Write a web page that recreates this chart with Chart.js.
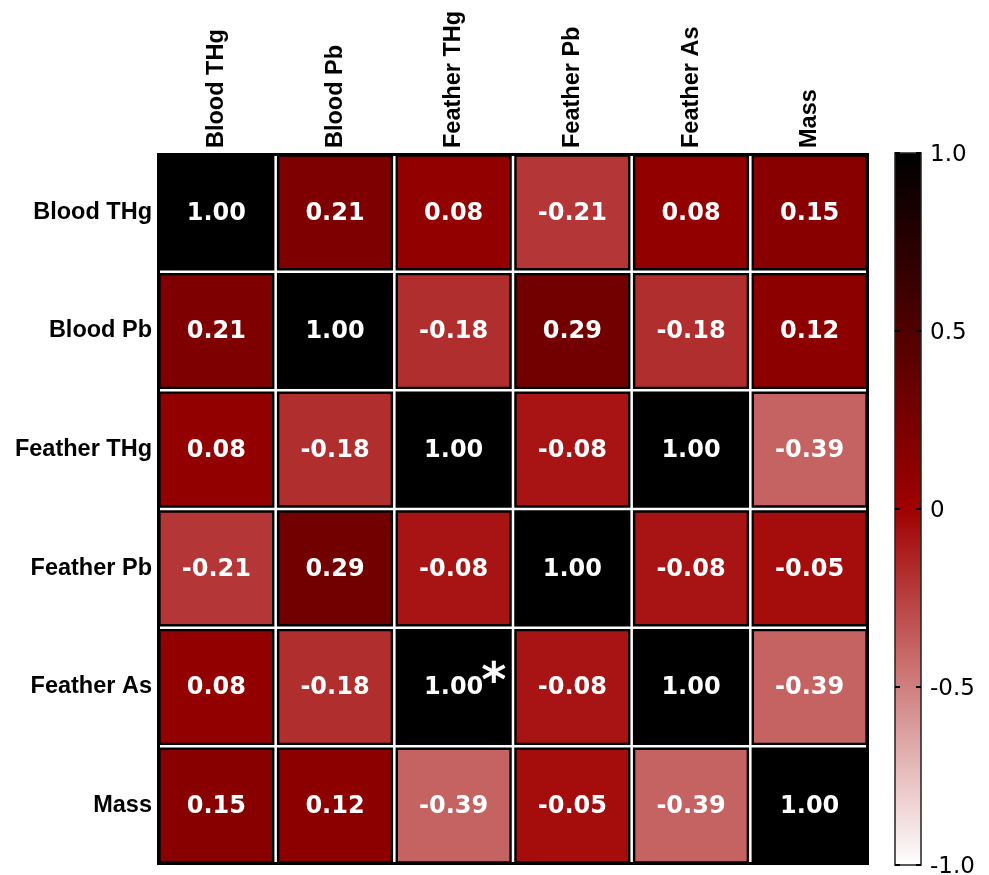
<!DOCTYPE html>
<html>
<head>
<meta charset="utf-8">
<script src="https://cdn.jsdelivr.net/npm/chart.js@4"></script>
<style>
html,body{margin:0;padding:0;background:#fff;}
#wrap{width:989px;height:875px;position:relative;}
</style>
</head>
<body>
<div id="wrap"><canvas id="c"></canvas></div>
<script>
// ---- data ----
const variables = ['Blood THg', 'Blood Pb', 'Feather THg', 'Feather Pb', 'Feather As', 'Mass'];
const rowBloodTHg   = [1.00, 0.21, 0.08, -0.21, 0.08, 0.15];
const rowBloodPb    = [0.21, 1.00, -0.18, 0.29, -0.18, 0.12];
const rowFeatherTHg = [0.08, -0.18, 1.00, -0.08, 1.00, -0.39];
const rowFeatherPb  = [-0.21, 0.29, -0.08, 1.00, -0.08, -0.05];
const rowFeatherAs  = [0.08, -0.18, 1.00, -0.08, 1.00, -0.39];
const rowMass       = [0.15, 0.12, -0.39, -0.05, -0.39, 1.00];
const matrix = [rowBloodTHg, rowBloodPb, rowFeatherTHg, rowFeatherPb, rowFeatherAs, rowMass];
const colorbarTicks = [-1, -0.5, 0, 0.5, 1];
const colorbarTickLabels = ['-1.0', '-0.5', '0', '0.5', '1.0'];
const marks = [{row: 'Feather As', col: 'Feather THg', text: '*'}];

// ---- colormap: white (-1) -> red (0) -> black (1) ----
const MID = [160, 0, 0];
function colorFor(v) {
  let r, g, b;
  if (v >= 0) {
    const t = 1 - v;
    r = MID[0] * t; g = MID[1] * t; b = MID[2] * t;
  } else {
    const t = -v;
    r = MID[0] + (255 - MID[0]) * t; g = MID[1] + (255 - MID[1]) * t; b = MID[2] + (255 - MID[2]) * t;
  }
  return `rgb(${Math.round(r)},${Math.round(g)},${Math.round(b)})`;
}

const datasets = matrix.map((row, r) => ({
  label: variables[r],
  data: variables.map((c, j) => ({x: c, y: [r, r + 1], v: row[j]})),
  backgroundColor: row.map(colorFor),
  borderColor: '#000',
  borderWidth: 4,
  borderSkipped: false,
  grouped: false,
  barPercentage: 1,
  categoryPercentage: 1,
  yAxisID: 'y'
}));

const overlay = {
  id: 'overlay',
  afterDatasetsDraw(chart) {
    const ctx = chart.ctx;
    const xs = chart.scales.x, ys = chart.scales.y, cb = chart.scales.cb;
    const ca = chart.chartArea;
    ctx.save();
    // white separators between cells
    ctx.strokeStyle = '#fff';
    ctx.lineWidth = 2.5;
    for (let k = 1; k < variables.length; k++) {
      const xp = (xs.getPixelForValue(k - 1) + xs.getPixelForValue(k)) / 2;
      ctx.beginPath(); ctx.moveTo(xp, ca.top + 3); ctx.lineTo(xp, ca.bottom - 3); ctx.stroke();
      const yp = ys.getPixelForValue(k);
      ctx.beginPath(); ctx.moveTo(ca.left + 3, yp); ctx.lineTo(ca.right - 3, yp); ctx.stroke();
    }
    // values
    ctx.fillStyle = '#fff';
    ctx.font = 'bold 24px "DejaVu Sans"';
    ctx.textAlign = 'center';
    ctx.textBaseline = 'middle';
    chart.data.datasets.forEach((ds, r) => {
      const meta = chart.getDatasetMeta(r);
      meta.data.forEach((el, j) => {
        const cx = el.x, cy = (el.y + el.base) / 2;
        const txt = ds.data[j].v.toFixed(2);
        ctx.fillText(txt, cx, cy + 1);
        marks.forEach(m => {
          if (m.row === variables[r] && m.col === variables[j]) {
            const w = ctx.measureText(txt).width;
            ctx.save();
            ctx.textAlign = 'left';
            ctx.font = 'bold 48px "DejaVu Sans"';
            ctx.fillText(m.text, cx + w / 2 - 2, cy - 3);
            ctx.restore();
          }
        });
      });
    });
    // colorbar
    const top = cb.getPixelForValue(1), bot = cb.getPixelForValue(-1);
    const x0 = ca.right + 26, x1 = ca.right + 52;
    const grad = ctx.createLinearGradient(0, top, 0, bot);
    grad.addColorStop(0, colorFor(1));
    grad.addColorStop(0.5, colorFor(0));
    grad.addColorStop(1, colorFor(-1));
    ctx.fillStyle = grad;
    ctx.fillRect(x0, top, x1 - x0, bot - top);
    ctx.strokeStyle = '#222';
    ctx.lineWidth = 1.5;
    ctx.strokeRect(x0, top, x1 - x0, bot - top);
    ctx.strokeStyle = '#000';
    ctx.lineWidth = 2;
    colorbarTicks.forEach(v => {
      const yp = cb.getPixelForValue(v);
      ctx.beginPath(); ctx.moveTo(x0, yp); ctx.lineTo(x0 + 5, yp); ctx.stroke();
      ctx.beginPath(); ctx.moveTo(x1 - 5, yp); ctx.lineTo(x1, yp); ctx.stroke();
    });
    ctx.restore();
  }
};

new Chart(document.getElementById('c'), {
  type: 'bar',
  data: {labels: variables, datasets},
  options: {
    responsive: true,
    maintainAspectRatio: false,
    animation: false,
    layout: {padding: {left: 0, right: 0, top: 0, bottom: 10}},
    plugins: {legend: {display: false}, tooltip: {enabled: false}},
    scales: {
      x: {
        type: 'category',
        position: 'top',
        offset: true,
        grid: {display: false, drawTicks: false},
        border: {display: false},
        ticks: {
          autoSkip: false, maxRotation: 90, minRotation: 90, padding: 5, labelOffset: 28.5,
          color: '#000', font: {family: '"Liberation Sans", Arial', size: 23.5, weight: 'bold'}
        },
        afterFit(s) { s.height = 153; s.paddingLeft = 0; s.paddingRight = 0; }
      },
      y: {
        type: 'linear',
        position: 'left',
        reverse: true,
        min: 0, max: variables.length,
        grid: {display: false, drawTicks: false},
        border: {display: false},
        afterBuildTicks(s) { s.ticks = variables.map((v, i) => ({value: i + 0.5})); },
        ticks: {
          padding: 5,
          color: '#000',
          font: {family: '"Liberation Sans", Arial', size: 23.5, weight: 'bold'},
          callback: (val) => variables[Math.floor(val)]
        },
        afterFit(s) { s.width = 157; s.paddingTop = 0; s.paddingBottom = 0; }
      },
      cb: {
        type: 'linear',
        position: 'right',
        min: -1, max: 1,
        grid: {display: false, drawTicks: false},
        border: {display: false},
        afterBuildTicks(s) { s.ticks = colorbarTicks.map(v => ({value: v})); },
        ticks: {
          padding: 61,
          labelOffset: 2,
          color: '#000',
          font: {family: '"DejaVu Sans"', size: 23},
          callback: (val) => colorbarTickLabels[colorbarTicks.indexOf(val)]
        },
        afterFit(s) { s.width = 120; s.paddingTop = 0; s.paddingBottom = 0; }
      }
    }
  },
  plugins: [overlay]
});
</script>
</body>
</html>
